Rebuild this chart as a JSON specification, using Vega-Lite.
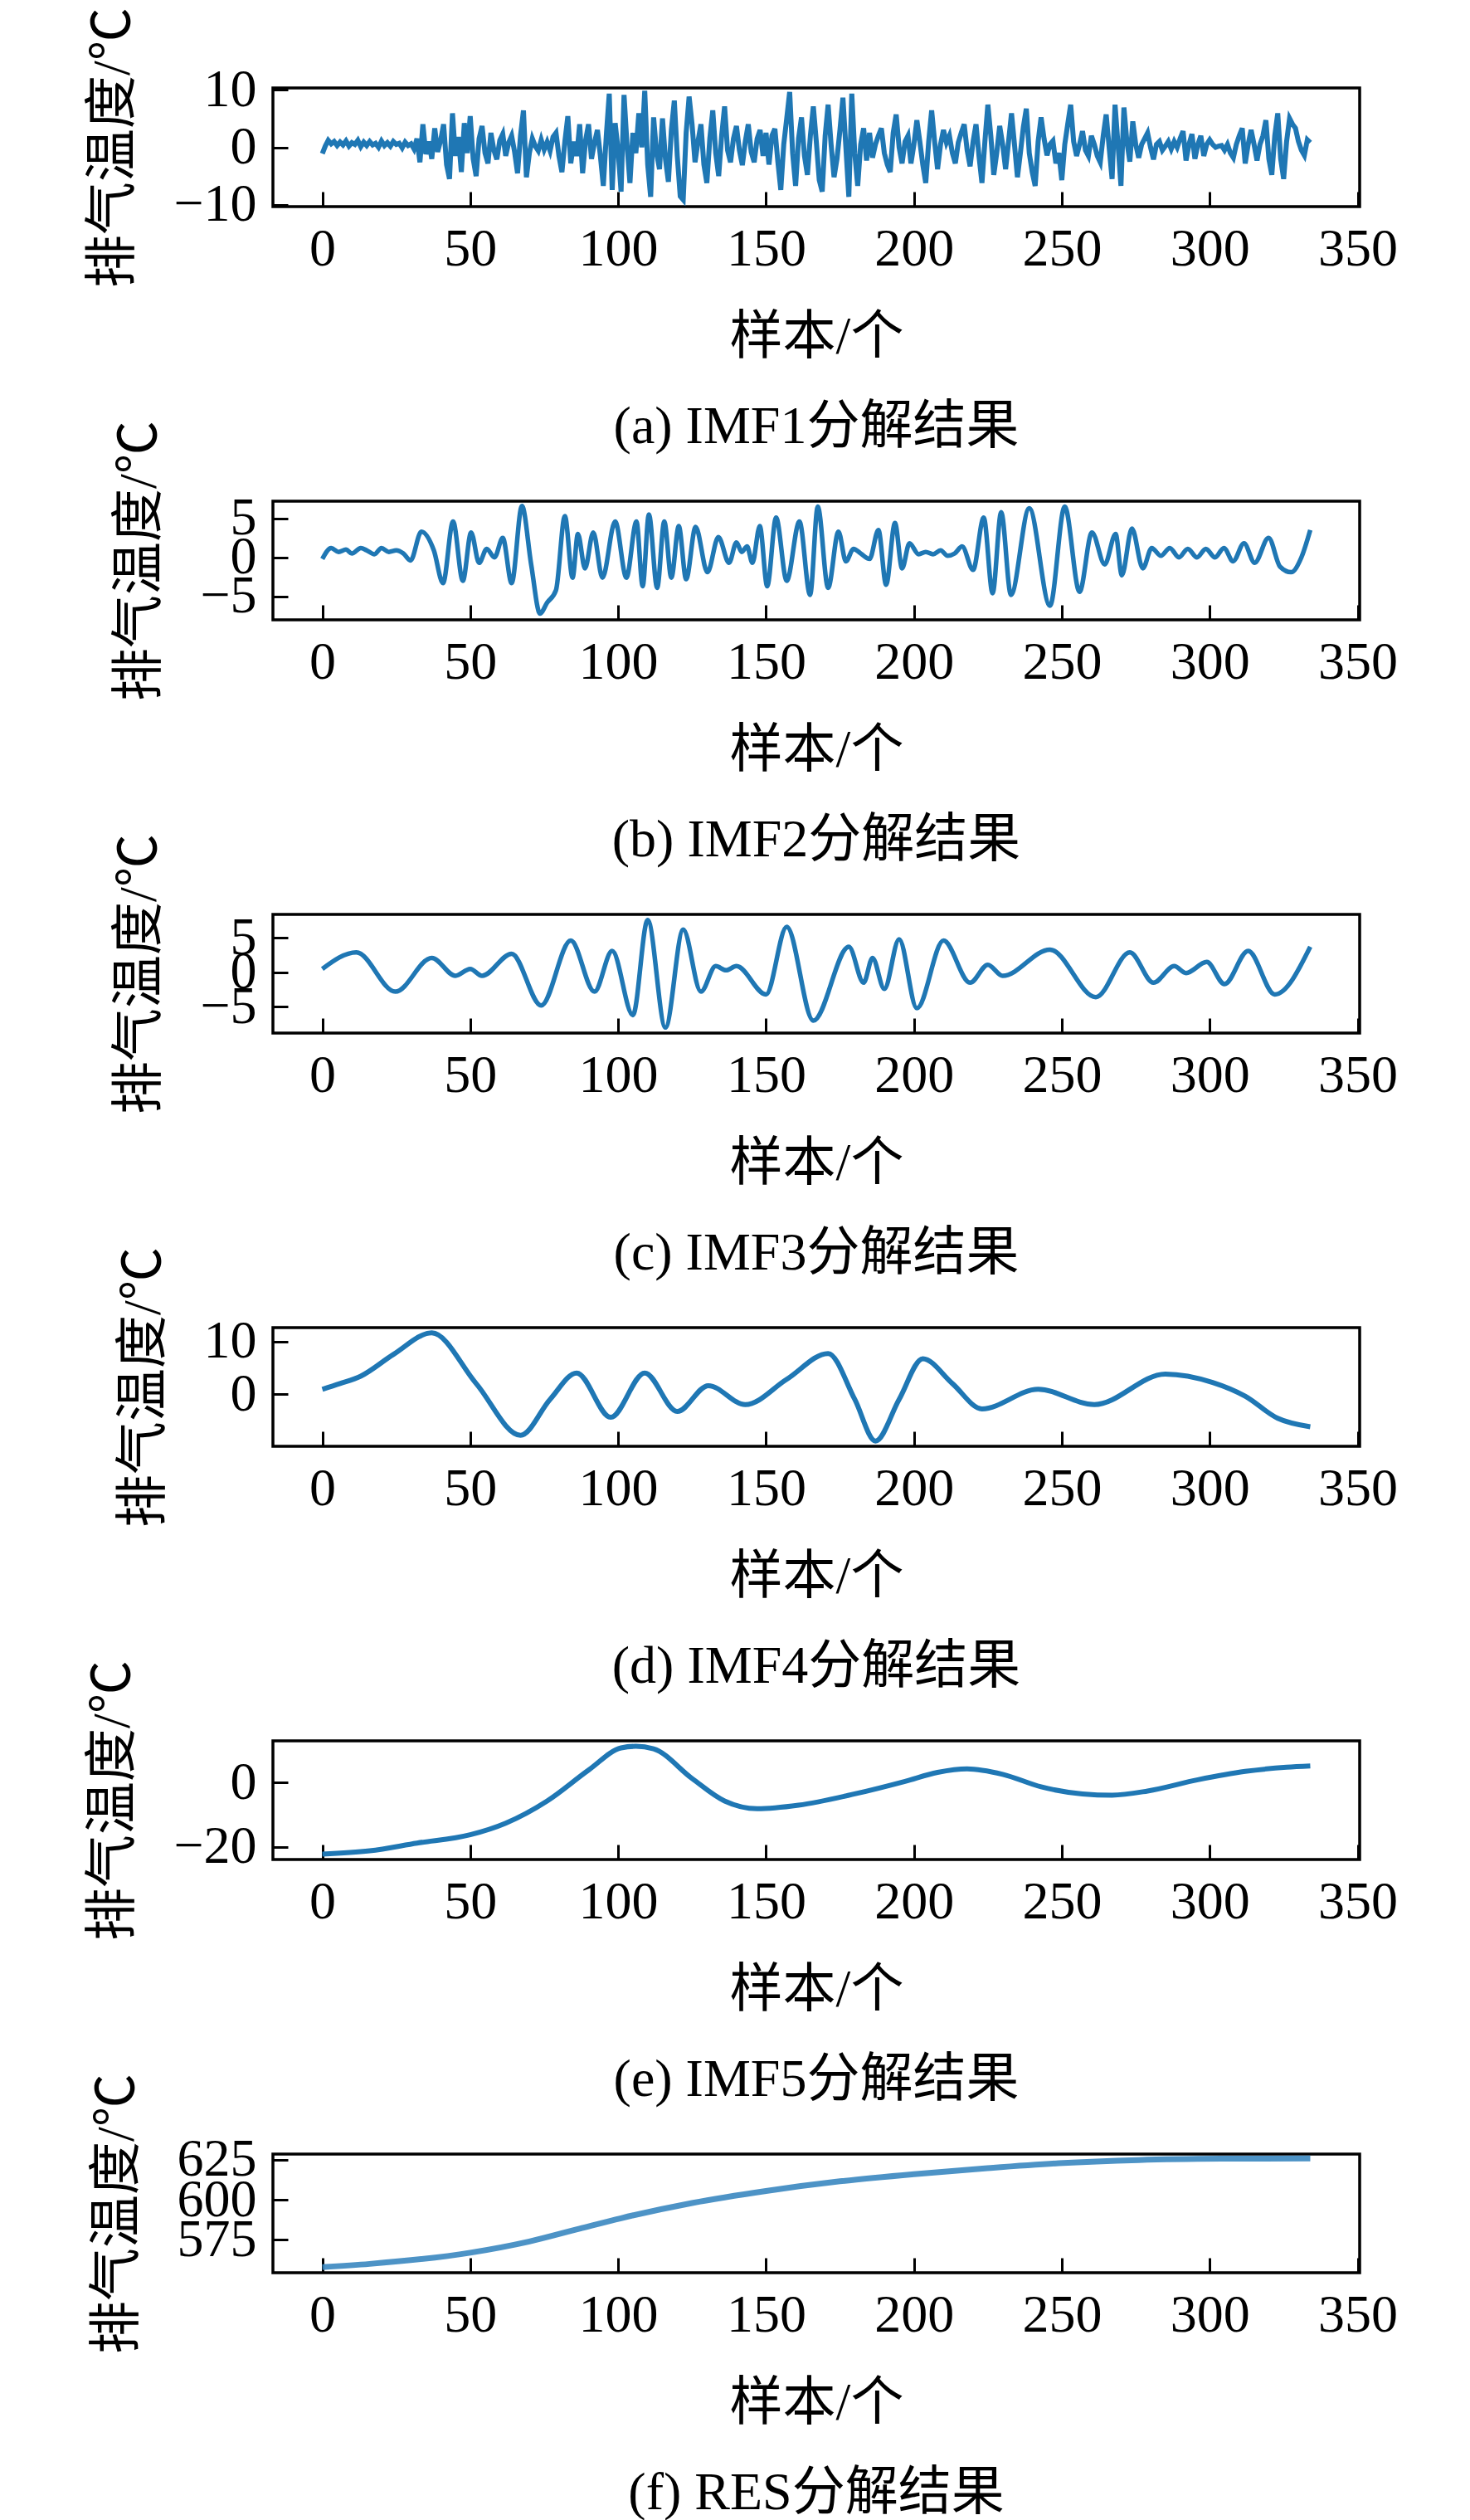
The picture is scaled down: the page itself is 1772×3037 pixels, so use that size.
{
  "$schema": "https://vega.github.io/schema/vega-lite/v6.json",
  "background": "white",
  "padding": {"left": 103, "top": 6, "right": 10, "bottom": 0},
  "autosize": {"type": "pad"},
  "datasets": {
    "imf1": [
      {"x":0,"y":-1.1},{"x":1,"y":0.2},{"x":2,"y":1.2},{"x":3,"y":0.6},{"x":4,"y":1.0},{"x":5,"y":0.3},{"x":6,"y":0.9},{"x":7,"y":0.4},{"x":8,"y":1.1},{"x":9,"y":0.2},
      {"x":10,"y":0.8},{"x":11,"y":0.5},{"x":12,"y":1.2},{"x":13,"y":0.1},{"x":14,"y":0.9},{"x":15,"y":0.3},{"x":16,"y":1.0},{"x":17,"y":0.4},{"x":18,"y":0.7},{"x":19,"y":0.0},
      {"x":20,"y":1.1},{"x":21,"y":0.3},{"x":22,"y":0.8},{"x":23,"y":0.2},{"x":24,"y":1.0},{"x":25,"y":0.5},{"x":26,"y":0.7},{"x":27,"y":-0.1},{"x":28,"y":0.9},{"x":29,"y":0.3},
      {"x":30,"y":0.6},{"x":31,"y":-0.3},{"x":32,"y":1.5},{"x":33,"y":-2.6},{"x":34,"y":4.0},{"x":35,"y":-1.2},{"x":36,"y":1.0},{"x":37,"y":-2.0},{"x":38,"y":3.3},{"x":39,"y":-0.8},
      {"x":40,"y":1.2},{"x":41,"y":4.0},{"x":42,"y":-3.0},{"x":43,"y":-5.5},{"x":44,"y":5.9},{"x":45,"y":-1.5},{"x":46,"y":1.8},{"x":47,"y":-4.3},{"x":48,"y":4.2},{"x":49,"y":-1.0},
      {"x":50,"y":5.4},{"x":51,"y":-2.0},{"x":52,"y":-5.0},{"x":53,"y":1.5},{"x":54,"y":3.7},{"x":55,"y":-1.0},{"x":56,"y":-2.8},{"x":57,"y":2.5},{"x":58,"y":-0.5},{"x":59,"y":-2.1},
      {"x":60,"y":1.2},{"x":61,"y":2.3},{"x":62,"y":-1.5},{"x":63,"y":0.8},{"x":64,"y":2.0},{"x":65,"y":-0.8},{"x":66,"y":-4.5},{"x":67,"y":2.0},{"x":68,"y":6.4},{"x":69,"y":-5.2},
      {"x":70,"y":-1.0},{"x":71,"y":1.5},{"x":72,"y":0.2},{"x":73,"y":-0.6},{"x":74,"y":1.3},{"x":75,"y":-0.4},{"x":76,"y":0.9},{"x":77,"y":-0.6},{"x":78,"y":1.8},{"x":79,"y":2.5},
      {"x":80,"y":-1.5},{"x":81,"y":-4.3},{"x":82,"y":1.0},{"x":83,"y":5.4},{"x":84,"y":-2.8},{"x":85,"y":1.0},{"x":86,"y":-1.5},{"x":87,"y":4.0},{"x":88,"y":-4.5},{"x":89,"y":1.2},
      {"x":90,"y":4.0},{"x":91,"y":-2.0},{"x":92,"y":0.8},{"x":93,"y":3.0},{"x":94,"y":-1.5},{"x":95,"y":-6.7},{"x":96,"y":2.0},{"x":97,"y":9.3},{"x":98,"y":-7.4},{"x":99,"y":4.2},
      {"x":100,"y":-0.5},{"x":101,"y":-7.7},{"x":102,"y":9.1},{"x":103,"y":0.5},{"x":104,"y":-6.2},{"x":105,"y":2.5},{"x":106,"y":-1.0},{"x":107,"y":5.9},{"x":108,"y":0.0},{"x":109,"y":9.8},
      {"x":110,"y":-3.0},{"x":111,"y":-8.6},{"x":112,"y":5.2},{"x":113,"y":-1.0},{"x":114,"y":-3.8},{"x":115,"y":5.0},{"x":116,"y":-2.0},{"x":117,"y":-6.0},{"x":118,"y":3.0},{"x":119,"y":8.1},
      {"x":120,"y":-1.5},{"x":121,"y":-8.5},{"x":122,"y":-9.1},{"x":123,"y":2.5},{"x":124,"y":8.8},{"x":125,"y":4.0},{"x":126,"y":-2.6},{"x":127,"y":1.0},{"x":128,"y":4.0},{"x":129,"y":-3.0},
      {"x":130,"y":-6.2},{"x":131,"y":1.5},{"x":132,"y":6.4},{"x":133,"y":-1.0},{"x":134,"y":-5.0},{"x":135,"y":2.0},{"x":136,"y":7.1},{"x":137,"y":-0.5},{"x":138,"y":-2.6},{"x":139,"y":1.5},
      {"x":140,"y":3.7},{"x":141,"y":-0.5},{"x":142,"y":-3.1},{"x":143,"y":1.0},{"x":144,"y":4.0},{"x":145,"y":-0.8},{"x":146,"y":-2.6},{"x":147,"y":1.5},{"x":148,"y":3.0},{"x":149,"y":-1.5},
      {"x":150,"y":2.5},{"x":151,"y":-3.0},{"x":152,"y":2.0},{"x":153,"y":3.2},{"x":154,"y":-2.5},{"x":155,"y":-7.4},{"x":156,"y":0.5},{"x":157,"y":5.0},{"x":158,"y":9.6},{"x":159,"y":-1.0},
      {"x":160,"y":-6.7},{"x":161,"y":1.5},{"x":162,"y":5.2},{"x":163,"y":-1.5},{"x":164,"y":-4.8},{"x":165,"y":2.0},{"x":166,"y":7.1},{"x":167,"y":1.0},{"x":168,"y":-5.7},{"x":169,"y":-7.7},
      {"x":170,"y":2.0},{"x":171,"y":7.4},{"x":172,"y":0.5},{"x":173,"y":-5.2},{"x":174,"y":-2.0},{"x":175,"y":3.0},{"x":176,"y":8.6},{"x":177,"y":0.0},{"x":178,"y":-8.6},{"x":179,"y":9.3},
      {"x":180,"y":-1.0},{"x":181,"y":-6.7},{"x":182,"y":0.5},{"x":183,"y":3.3},{"x":184,"y":-2.3},{"x":185,"y":2.5},{"x":186,"y":-1.8},{"x":187,"y":0.5},{"x":188,"y":2.0},{"x":189,"y":3.3},
      {"x":190,"y":-1.0},{"x":191,"y":-3.0},{"x":192,"y":-4.3},{"x":193,"y":2.5},{"x":194,"y":5.7},{"x":195,"y":0.0},{"x":196,"y":-2.8},{"x":197,"y":1.0},{"x":198,"y":2.0},{"x":199,"y":-2.8},
      {"x":200,"y":0.5},{"x":201,"y":4.7},{"x":202,"y":1.0},{"x":203,"y":-3.0},{"x":204,"y":-6.2},{"x":205,"y":1.0},{"x":206,"y":6.4},{"x":207,"y":1.0},{"x":208,"y":-3.8},{"x":209,"y":0.5},
      {"x":210,"y":3.0},{"x":211,"y":0.8},{"x":212,"y":2.0},{"x":213,"y":-1.0},{"x":214,"y":-2.8},{"x":215,"y":0.8},{"x":216,"y":2.5},{"x":217,"y":4.0},{"x":218,"y":-0.5},{"x":219,"y":-3.3},
      {"x":220,"y":1.0},{"x":221,"y":4.0},{"x":222,"y":-1.5},{"x":223,"y":-6.2},{"x":224,"y":1.0},{"x":225,"y":7.4},{"x":226,"y":2.0},{"x":227,"y":-4.8},{"x":228,"y":-1.0},{"x":229,"y":3.7},
      {"x":230,"y":0.5},{"x":231,"y":-3.8},{"x":232,"y":1.0},{"x":233,"y":5.9},{"x":234,"y":0.5},{"x":235,"y":-5.2},{"x":236,"y":-1.0},{"x":237,"y":3.5},{"x":238,"y":6.7},{"x":239,"y":-1.0},
      {"x":240,"y":-4.3},{"x":241,"y":-6.7},{"x":242,"y":1.0},{"x":243,"y":5.2},{"x":244,"y":1.5},{"x":245,"y":-1.4},{"x":246,"y":0.5},{"x":247,"y":1.1},{"x":248,"y":-2.8},{"x":249,"y":-1.0},
      {"x":250,"y":-5.7},{"x":251,"y":0.5},{"x":252,"y":4.0},{"x":253,"y":7.4},{"x":254,"y":1.0},{"x":255,"y":-1.5},{"x":256,"y":0.5},{"x":257,"y":2.8},{"x":258,"y":-0.5},{"x":259,"y":-1.5},
      {"x":260,"y":2.0},{"x":261,"y":0.5},{"x":262,"y":-1.5},{"x":263,"y":-2.6},{"x":264,"y":2.0},{"x":265,"y":5.7},{"x":266,"y":0.0},{"x":267,"y":-5.5},{"x":268,"y":7.4},{"x":269,"y":0.5},
      {"x":270,"y":-6.7},{"x":271,"y":6.9},{"x":272,"y":1.0},{"x":273,"y":-2.5},{"x":274,"y":4.5},{"x":275,"y":0.5},{"x":276,"y":-1.8},{"x":277,"y":0.5},{"x":278,"y":1.5},{"x":279,"y":2.5},
      {"x":280,"y":0.0},{"x":281,"y":-2.1},{"x":282,"y":0.5},{"x":283,"y":1.0},{"x":284,"y":-0.5},{"x":285,"y":0.2},{"x":286,"y":1.0},{"x":287,"y":-0.3},{"x":288,"y":1.0},{"x":289,"y":0.0},
      {"x":290,"y":1.5},{"x":291,"y":2.8},{"x":292,"y":-2.3},{"x":293,"y":0.5},{"x":294,"y":2.3},{"x":295,"y":-2.0},{"x":296,"y":0.5},{"x":297,"y":2.0},{"x":298,"y":-1.5},{"x":299,"y":0.5},
      {"x":300,"y":1.3},{"x":301,"y":0.5},{"x":302,"y":0.0},{"x":303,"y":0.2},{"x":304,"y":0.3},{"x":305,"y":-0.5},{"x":306,"y":0.5},{"x":307,"y":-1.0},{"x":308,"y":-1.8},{"x":309,"y":0.5},
      {"x":310,"y":2.0},{"x":311,"y":3.3},{"x":312,"y":-2.8},{"x":313,"y":0.5},{"x":314,"y":3.0},{"x":315,"y":0.5},{"x":316,"y":-2.3},{"x":317,"y":0.5},{"x":318,"y":2.0},{"x":319,"y":4.7},
      {"x":320,"y":-2.0},{"x":321,"y":-4.8},{"x":322,"y":2.0},{"x":323,"y":5.9},{"x":324,"y":-2.0},{"x":325,"y":-5.5},{"x":326,"y":1.0},{"x":327,"y":5.0},{"x":328,"y":4.0},{"x":329,"y":3.3},
      {"x":330,"y":1.0},{"x":331,"y":-0.5},{"x":332,"y":-1.4},{"x":333,"y":1.3},{"x":334,"y":0.8}
    ],
    "imf2": [
      {"x":0,"y":-0.2},{"x":3,"y":1.2},{"x":5.5,"y":0.7},{"x":8,"y":1.0},{"x":10,"y":0.5},{"x":13,"y":1.2},{"x":15,"y":0.9},{"x":17.6,"y":0.4},{"x":20,"y":1.2},{"x":22.5,"y":0.7},
      {"x":25,"y":0.9},{"x":27.4,"y":0.5},{"x":29.8,"y":-0.4},{"x":33.5,"y":3.3},{"x":37.7,"y":0.9},{"x":40.8,"y":-3.3},{"x":44.2,"y":4.6},{"x":47.5,"y":-3.0},{"x":50.3,"y":3.2},{"x":53,"y":-0.7},
      {"x":55.6,"y":1.1},{"x":58.2,"y":0.0},{"x":61,"y":2.5},{"x":64,"y":-3.3},{"x":67.5,"y":6.6},{"x":70.6,"y":-0.9},{"x":73.6,"y":-7.2},{"x":76,"y":-5.8},{"x":79,"y":-4.2},{"x":82,"y":5.3},
      {"x":84.6,"y":-2.6},{"x":86.4,"y":3.0},{"x":88.8,"y":-1.4},{"x":91.6,"y":3.2},{"x":94.7,"y":-2.6},{"x":99,"y":4.6},{"x":102.8,"y":-2.6},{"x":106.2,"y":4.6},{"x":108.3,"y":-3.7},{"x":110.4,"y":5.5},
      {"x":113.2,"y":-3.9},{"x":115.6,"y":4.6},{"x":118,"y":-2.6},{"x":120.5,"y":4.0},{"x":123,"y":-2.8},{"x":126.2,"y":3.9},{"x":130.2,"y":-1.9},{"x":133.9,"y":2.6},{"x":137.5,"y":-0.7},{"x":140,"y":1.9},
      {"x":141.8,"y":0.7},{"x":143.6,"y":1.4},{"x":145.4,"y":-0.7},{"x":147.9,"y":4.0},{"x":150.4,"y":-3.7},{"x":153.4,"y":5.1},{"x":157,"y":-3.0},{"x":161.3,"y":4.6},{"x":164.9,"y":-4.8},{"x":167.5,"y":6.5},
      {"x":171,"y":-3.9},{"x":174.5,"y":3.3},{"x":177,"y":-0.5},{"x":179.6,"y":1.1},{"x":182,"y":0.5},{"x":185,"y":-0.2},{"x":188,"y":3.5},{"x":190.6,"y":-3.5},{"x":193.6,"y":4.4},{"x":196,"y":-1.4},
      {"x":198.5,"y":1.8},{"x":201.6,"y":0.4},{"x":204,"y":0.7},{"x":206.5,"y":0.4},{"x":209,"y":0.9},{"x":211.4,"y":0.2},{"x":213.8,"y":0.5},{"x":216.3,"y":1.4},{"x":220,"y":-1.6},{"x":223.6,"y":5.1},
      {"x":226.6,"y":-4.6},{"x":229.5,"y":5.8},{"x":232.8,"y":-4.8},{"x":239,"y":6.3},{"x":246,"y":-6.2},{"x":251,"y":6.5},{"x":256,"y":-4.4},{"x":260.2,"y":3.2},{"x":264.5,"y":-0.9},{"x":268.2,"y":3.0},
      {"x":270.3,"y":-2.3},{"x":273.7,"y":3.7},{"x":277.4,"y":-1.4},{"x":280.4,"y":1.2},{"x":283.5,"y":0.2},{"x":286.5,"y":1.2},{"x":289.6,"y":0.0},{"x":292.6,"y":1.1},{"x":295.7,"y":0.0},{"x":298.7,"y":1.1},
      {"x":301.8,"y":0.0},{"x":304.8,"y":1.2},{"x":307.9,"y":-0.5},{"x":311.6,"y":1.8},{"x":315.2,"y":-0.7},{"x":319.9,"y":2.5},{"x":323.8,"y":-1.2},{"x":327.5,"y":-1.9},{"x":331,"y":0.0},{"x":334,"y":3.5}
    ],
    "imf3": [
      {"x":0,"y":0.5},{"x":11.5,"y":2.9},{"x":24.7,"y":-2.8},{"x":37,"y":2.1},{"x":45,"y":-0.5},{"x":50,"y":0.5},{"x":54,"y":-0.5},{"x":64,"y":2.7},{"x":74,"y":-4.8},{"x":84,"y":4.6},
      {"x":92,"y":-2.8},{"x":98,"y":3.1},{"x":105,"y":-6.2},{"x":110,"y":7.6},{"x":116,"y":-8.0},{"x":122,"y":6.2},{"x":128,"y":-2.8},{"x":133,"y":0.9},{"x":136.5,"y":0.3},{"x":140,"y":0.9},
      {"x":150,"y":-3.2},{"x":157,"y":6.6},{"x":166,"y":-7.0},{"x":178,"y":3.7},{"x":183,"y":-1.5},{"x":186,"y":2.1},{"x":190,"y":-2.4},{"x":195,"y":4.8},{"x":201,"y":-5.2},{"x":210,"y":4.6},
      {"x":219,"y":-1.5},{"x":225,"y":1.1},{"x":230,"y":-0.5},{"x":246,"y":3.3},{"x":261.5,"y":-3.6},{"x":273,"y":2.9},{"x":281,"y":-1.5},{"x":288,"y":0.9},{"x":292,"y":-0.1},{"x":299,"y":1.5},
      {"x":305,"y":-1.7},{"x":313,"y":3.1},{"x":322,"y":-3.2},{"x":334,"y":3.7}
    ],
    "imf4": [
      {"x":0,"y":0.9},{"x":6,"y":2.0},{"x":13,"y":3.4},{"x":24,"y":7.5},{"x":37,"y":11.6},{"x":52,"y":2.0},{"x":67,"y":-7.8},{"x":77,"y":-1.0},{"x":86,"y":4.0},{"x":97.5,"y":-4.4},
      {"x":109,"y":4.0},{"x":120,"y":-3.3},{"x":130.5,"y":1.6},{"x":143,"y":-2.0},{"x":157,"y":2.8},{"x":171,"y":7.7},{"x":180,"y":-1.0},{"x":187,"y":-8.9},{"x":195,"y":-1.0},{"x":203,"y":6.7},
      {"x":213,"y":2.0},{"x":223,"y":-2.8},{"x":242,"y":0.9},{"x":261,"y":-2.0},{"x":285,"y":3.8},{"x":301,"y":2.2},{"x":312,"y":-0.4},{"x":323,"y":-4.6},{"x":334,"y":-6.2}
    ],
    "imf5": [
      {"x":0,"y":-22.2},{"x":16,"y":-21.2},{"x":32,"y":-18.8},{"x":50,"y":-16.2},{"x":62,"y":-12.6},{"x":76,"y":-5.7},{"x":90,"y":3.9},{"x":101,"y":10.8},{"x":106,"y":11.3},{"x":112,"y":10.5},
      {"x":125,"y":1.3},{"x":136,"y":-5.7},{"x":147,"y":-8.1},{"x":161,"y":-7.0},{"x":180,"y":-3.5},{"x":197,"y":0.4},{"x":208,"y":3.2},{"x":218,"y":4.3},{"x":230,"y":2.6},{"x":243,"y":-1.3},
      {"x":257,"y":-3.5},{"x":267,"y":-3.9},{"x":279,"y":-2.6},{"x":296,"y":0.9},{"x":312,"y":3.5},{"x":326,"y":4.8},{"x":334,"y":5.2}
    ],
    "res": [
      {"x":0,"y":558.0},{"x":16,"y":560.0},{"x":50,"y":567.0},{"x":70,"y":574.0},{"x":87,"y":582.0},{"x":101,"y":588.5},{"x":125,"y":598.0},{"x":150,"y":605.5},{"x":175,"y":611.5},{"x":200,"y":616.0},
      {"x":224,"y":619.6},{"x":249,"y":622.8},{"x":276,"y":624.8},{"x":304,"y":625.6},{"x":334,"y":625.8}
    ]
  },
  "vconcat": [
    {
      "width": 1310,
      "height": 143,
      "data": {"name": "imf1"},
      "title": {"text": "(a) IMF1分解结果"},
      "mark": {"type": "line", "color": "#1f77b4", "strokeWidth": 6, "clip": true},
      "encoding": {
        "x": {"field": "x", "type": "quantitative", "title": "样本/个",
          "scale": {"domain": [-16.7, 350.7], "nice": false, "zero": false},
          "axis": {"values": [0, 50, 100, 150, 200, 250, 300, 350]}},
        "y": {"field": "y", "type": "quantitative", "title": "排气温度/℃",
          "scale": {"domain": [-10.3, 10.3], "nice": false, "zero": false},
          "axis": {"values": [-10, 0, 10]}}
      }
    },
    {
      "width": 1310,
      "height": 143,
      "data": {"name": "imf2"},
      "title": {"text": "(b) IMF2分解结果"},
      "mark": {"type": "line", "color": "#1f77b4", "strokeWidth": 5.5, "interpolate": "monotone", "clip": true},
      "encoding": {
        "x": {"field": "x", "type": "quantitative", "title": "样本/个",
          "scale": {"domain": [-16.7, 350.7], "nice": false, "zero": false},
          "axis": {"values": [0, 50, 100, 150, 200, 250, 300, 350]}},
        "y": {"field": "y", "type": "quantitative", "title": "排气温度/℃",
          "scale": {"domain": [-8.0, 7.2], "nice": false, "zero": false},
          "axis": {"values": [-5, 0, 5]}}
      }
    },
    {
      "width": 1310,
      "height": 143,
      "data": {"name": "imf3"},
      "title": {"text": "(c) IMF3分解结果"},
      "mark": {"type": "line", "color": "#1f77b4", "strokeWidth": 5.5, "interpolate": "monotone", "clip": true},
      "encoding": {
        "x": {"field": "x", "type": "quantitative", "title": "样本/个",
          "scale": {"domain": [-16.7, 350.7], "nice": false, "zero": false},
          "axis": {"values": [0, 50, 100, 150, 200, 250, 300, 350]}},
        "y": {"field": "y", "type": "quantitative", "title": "排气温度/℃",
          "scale": {"domain": [-8.8, 8.4], "nice": false, "zero": false},
          "axis": {"values": [-5, 0, 5]}}
      }
    },
    {
      "width": 1310,
      "height": 143,
      "data": {"name": "imf4"},
      "title": {"text": "(d) IMF4分解结果"},
      "mark": {"type": "line", "color": "#1f77b4", "strokeWidth": 6, "interpolate": "monotone", "clip": true},
      "encoding": {
        "x": {"field": "x", "type": "quantitative", "title": "样本/个",
          "scale": {"domain": [-16.7, 350.7], "nice": false, "zero": false},
          "axis": {"values": [0, 50, 100, 150, 200, 250, 300, 350]}},
        "y": {"field": "y", "type": "quantitative", "title": "排气温度/℃",
          "scale": {"domain": [-9.9, 12.6], "nice": false, "zero": false},
          "axis": {"values": [0, 10]}}
      }
    },
    {
      "width": 1310,
      "height": 143,
      "data": {"name": "imf5"},
      "title": {"text": "(e) IMF5分解结果"},
      "mark": {"type": "line", "color": "#1f77b4", "strokeWidth": 6, "interpolate": "monotone", "clip": true},
      "encoding": {
        "x": {"field": "x", "type": "quantitative", "title": "样本/个",
          "scale": {"domain": [-16.7, 350.7], "nice": false, "zero": false},
          "axis": {"values": [0, 50, 100, 150, 200, 250, 300, 350]}},
        "y": {"field": "y", "type": "quantitative", "title": "排气温度/℃",
          "scale": {"domain": [-23.9, 13.0], "nice": false, "zero": false},
          "axis": {"values": [-20, 0]}}
      }
    },
    {
      "width": 1310,
      "height": 143,
      "data": {"name": "res"},
      "title": {"text": "(f) RES分解结果"},
      "mark": {"type": "line", "color": "#3a87c0", "strokeWidth": 7, "opacity": 0.9, "interpolate": "monotone", "clip": true},
      "encoding": {
        "x": {"field": "x", "type": "quantitative", "title": "样本/个",
          "scale": {"domain": [-16.7, 350.7], "nice": false, "zero": false},
          "axis": {"values": [0, 50, 100, 150, 200, 250, 300, 350]}},
        "y": {"field": "y", "type": "quantitative", "title": "排气温度/℃",
          "scale": {"domain": [554.5, 628.5], "nice": false, "zero": false},
          "axis": {"values": [575, 600, 625]}}
      }
    }
  ],
  "spacing": 355,
  "bounds": "flush",
  "config": {
    "font": "Liberation Serif, Noto Sans CJK SC",
    "view": {"stroke": "black", "strokeWidth": 3.5},
    "axis": {
      "grid": false,
      "domain": false,
      "ticks": true,
      "tickSize": -18,
      "tickWidth": 3,
      "tickColor": "black",
      "labelFont": "Liberation Serif",
      "labelFontSize": 64,
      "labelColor": "black",
      "labelOverlap": false,
      "labelFlush": false,
      "titleFont": "Liberation Serif, Noto Sans CJK SC",
      "titleFontSize": 64,
      "titleFontWeight": "normal",
      "titleColor": "black"
    },
    "axisX": {"labelPadding": 37, "titlePadding": 42},
    "axisY": {"labelPadding": 38, "titlePadding": 40},
    "title": {
      "orient": "bottom",
      "anchor": "middle",
      "font": "Liberation Serif, Noto Sans CJK SC",
      "fontSize": 64,
      "fontWeight": "normal",
      "color": "black",
      "offset": 45
    }
  }
}
